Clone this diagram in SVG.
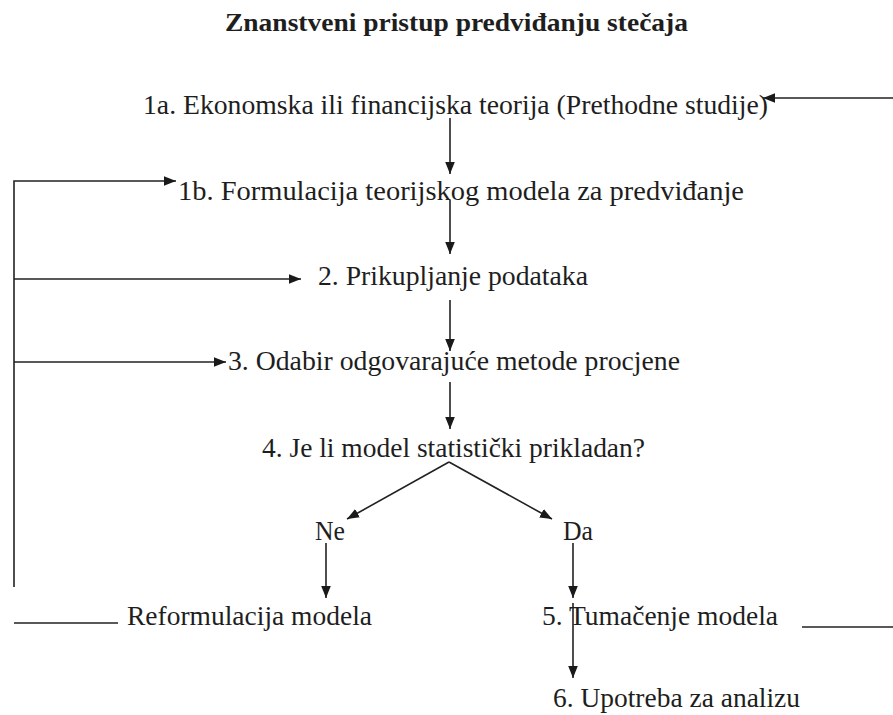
<svg xmlns="http://www.w3.org/2000/svg" width="893" height="715" viewBox="0 0 893 715">
<style>
text{font-family:"Liberation Serif","Times New Roman",serif;font-size:27px;fill:#1e1e1e}
.title{font-weight:bold;font-size:25px}
.ln{stroke:#222;stroke-width:1.6;fill:none}
</style>
<defs>
<marker id="ahb" viewBox="0 0 10 10" refX="10" refY="5" markerWidth="12" markerHeight="12" markerUnits="userSpaceOnUse" orient="auto">
<path d="M0,1 L10,5 L0,9 Z" fill="#1a1a1a"/>
</marker>
</defs>
<rect width="893" height="715" fill="#fff"/>
<text class="title" x="225" y="31" textLength="463" lengthAdjust="spacingAndGlyphs">Znanstveni pristup predviđanju stečaja</text>
<g id="connectors">
<line class="ln" x1="893" y1="98" x2="763" y2="98" marker-end="url(#ahb)"/>
<line class="ln" x1="450" y1="118" x2="450" y2="174" marker-end="url(#ahb)"/>
<polyline class="ln" points="14,587 14,181 176,181" marker-end="url(#ahb)"/>
<line class="ln" x1="450" y1="200" x2="450" y2="254" marker-end="url(#ahb)"/>
<line class="ln" x1="14" y1="279" x2="301" y2="279" marker-end="url(#ahb)"/>
<line class="ln" x1="450" y1="300" x2="450" y2="351" marker-end="url(#ahb)"/>
<line class="ln" x1="14" y1="362" x2="226" y2="362" marker-end="url(#ahb)"/>
<line class="ln" x1="450" y1="382" x2="450" y2="429" marker-end="url(#ahb)"/>
<line class="ln" x1="449" y1="462" x2="347" y2="519" marker-end="url(#ahb)"/>
<line class="ln" x1="449" y1="462" x2="552" y2="519" marker-end="url(#ahb)"/>
<line class="ln" x1="326" y1="543" x2="326" y2="598" marker-end="url(#ahb)"/>
<line class="ln" x1="573" y1="543" x2="573" y2="598" marker-end="url(#ahb)"/>
<line class="ln" x1="14" y1="623" x2="118" y2="623"/>
<line class="ln" x1="802" y1="627" x2="893" y2="627"/>
<line class="ln" x1="573" y1="603" x2="573" y2="678" marker-end="url(#ahb)"/>
</g>
<g id="n1a"><text x="143" y="114" textLength="625" lengthAdjust="spacingAndGlyphs">1a. Ekonomska ili financijska teorija (Prethodne studije)</text></g>
<g id="n1b"><text x="178" y="200" textLength="566" lengthAdjust="spacingAndGlyphs">1b. Formulacija teorijskog modela za predviđanje</text></g>
<g id="n2"><text x="318" y="285" textLength="270" lengthAdjust="spacingAndGlyphs">2. Prikupljanje podataka</text></g>
<g id="n3"><text x="228" y="370" textLength="452" lengthAdjust="spacingAndGlyphs">3. Odabir odgovarajuće metode procjene</text></g>
<g id="n4"><text x="262" y="457" textLength="383" lengthAdjust="spacingAndGlyphs">4. Je li model statistički prikladan?</text></g>
<g id="nNe"><text x="315" y="540" textLength="30" lengthAdjust="spacingAndGlyphs">Ne</text></g>
<g id="nDa"><text x="563" y="540" textLength="30" lengthAdjust="spacingAndGlyphs">Da</text></g>
<g id="nRef"><text x="127" y="625" textLength="245" lengthAdjust="spacingAndGlyphs">Reformulacija modela</text></g>
<g id="n5"><text x="542" y="625" textLength="236" lengthAdjust="spacingAndGlyphs">5. Tumačenje modela</text></g>
<g id="n6"><text x="553" y="707" textLength="247" lengthAdjust="spacingAndGlyphs">6. Upotreba za analizu</text></g>
</svg>
